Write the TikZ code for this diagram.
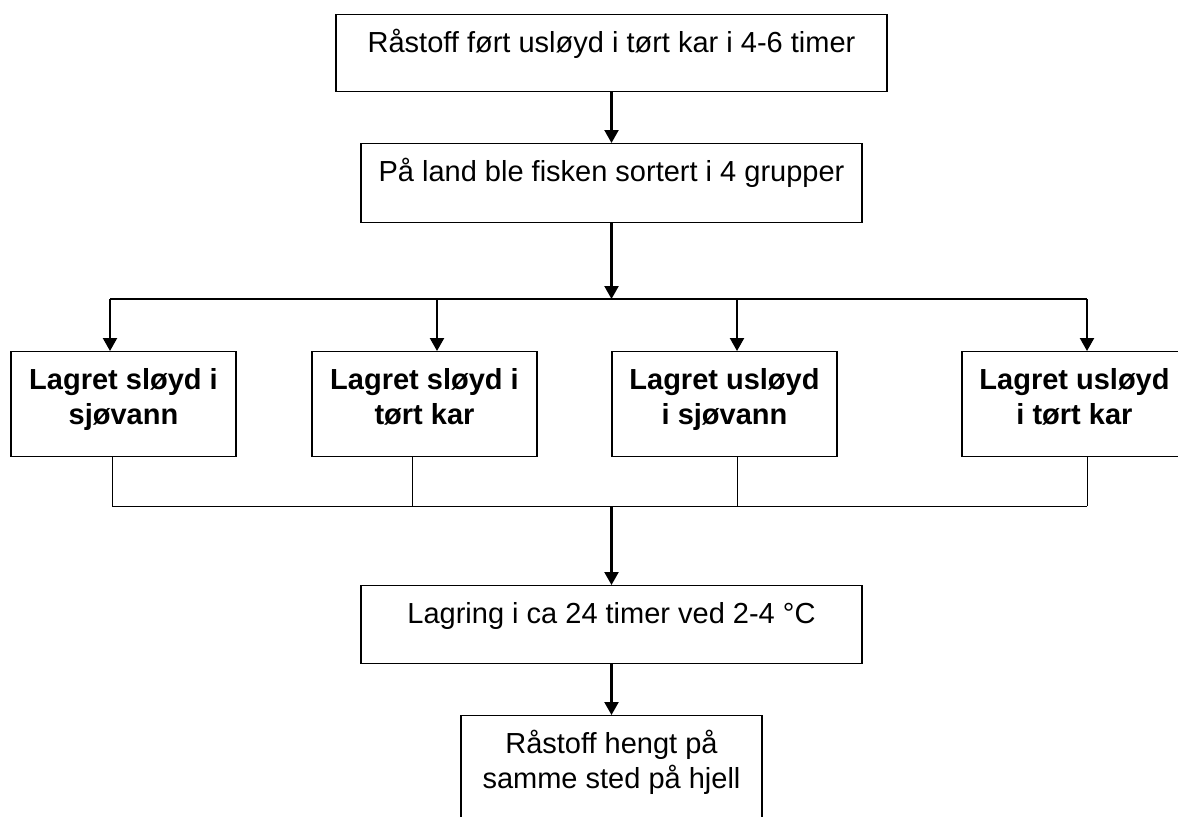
\documentclass[tikz,border=0pt]{standalone}
\usepackage{fontspec}
\setmainfont{Liberation Sans}
\usetikzlibrary{arrows.meta}

\tikzset{
  box/.style={draw, line width=0.6pt, anchor=north, align=center, inner xsep=2pt,
    inner ysep=8pt, text height=11pt, font=\fontsize{14.5}{17.5}\selectfont},
  twoline/.style={text height=28.5pt},
  groupbox/.style={box, twoline, minimum width=112.5pt, text depth=8pt,
    font=\fontsize{14.5}{17.5}\selectfont\bfseries},
  arr/.style={line width=1.1pt, -{Triangle[width=7pt,length=6.5pt]}},
  thinline/.style={line width=0.5pt}
}

\begin{document}
\begin{tikzpicture}[x=0.5pt,y=-0.5pt]
\clip (0,0) rectangle (1178,816);

\node[box, minimum width=275.5pt, text depth=11.5pt] (raw) at (611.5,14) {Råstoff ført usløyd i tørt kar i 4-6 timer};
\node[box, minimum width=250.5pt, text depth=12.5pt] (sort) at (611.5,143) {På land ble fisken sortert i 4 grupper};

\node[groupbox] (g1) at (123.5,351) {Lagret sløyd i\\sjøvann};
\node[groupbox] (g2) at (424.5,351) {Lagret sløyd i\\tørt kar};
\node[groupbox] (g3) at (724.5,351) {Lagret usløyd\\i sjøvann};
\node[groupbox] (g4) at (1074.5,351) {Lagret usløyd\\i tørt kar};

\node[box, minimum width=250.5pt, text depth=12pt] (chill) at (611.5,585) {Lagring i ca 24 timer ved 2-4 °C};
\node[box, twoline, minimum width=150.5pt, text depth=11.5pt] (hang) at (611.5,715) {Råstoff hengt på\\samme sted på hjell};

\coordinate (split) at (611.5,299);
\coordinate (join) at (611.5,506);

\draw[arr] (raw) -- (sort);
\draw[arr] (sort) -- (split);

% branches to the four groups
\foreach \n/\xa/\xb in {g1/110/112, g2/437/412, g3/737/737, g4/1087/1087}{
	\coordinate (in-\n) at (\xa,299);
	\coordinate (out-\n) at (\xb,506);
	\draw[arr] (in-\n) -- (in-\n |- \n.north);
	\draw[thinline] (out-\n |- \n.south) -- (out-\n);
	}
\draw[line width=0.8pt] (in-g1) -- (in-g4);
\draw[thinline] (out-g1) -- (out-g4);

\draw[arr] (join) -- (chill);
\draw[arr] (chill) -- (hang);
\end{tikzpicture}
\end{document}
